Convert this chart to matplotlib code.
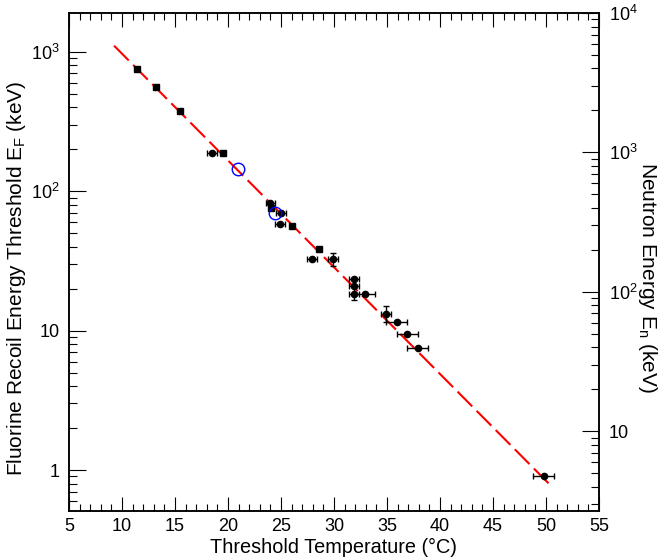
import numpy as np
import matplotlib
matplotlib.use("Agg")
import matplotlib.pyplot as plt
from matplotlib.ticker import FuncFormatter, MultipleLocator, LogLocator, NullFormatter

plt.rcParams['font.family'] = ['Liberation Sans', 'DejaVu Sans']
plt.rcParams['mathtext.fontset'] = 'custom'
plt.rcParams['mathtext.rm'] = 'Liberation Sans'
plt.rcParams['mathtext.it'] = 'Liberation Sans'
plt.rcParams['mathtext.default'] = 'regular'

# ---- data ----
# points drawn as filled squares (small errors)
sq_T = [11.4, 13.2, 15.5, 19.5, 24.1, 26.0, 28.6]
sq_E = [757, 561, 378, 189, 76, 56.7, 38.4]

# points with error bars
pt_T = [18.5, 24.0, 25.0, 24.9, 27.9, 29.9, 31.9, 31.9, 31.9, 32.9, 34.9, 35.9, 36.9, 37.9, 49.8]
pt_E = [189, 83, 70.3, 58, 32.7, 32.8, 23.6, 20.8, 18.4, 18.3, 13.2, 11.5, 9.47, 7.51, 0.906]
pt_Terr = [0.45, 0.45, 0.45, 0.45, 0.45, 0.45, 0.45, 0.45, 0.45, 1.0, 0.45, 1.0, 1.0, 1.0, 1.0]
pt_Eerr_lo = [0, 0, 0, 0, 0, 3.7, 0, 0, 1.8, 0, 1.6, 0, 0, 0, 0]
pt_Eerr_hi = [0, 0, 0, 0, 0, 3.5, 0, 0, 2.0, 0, 1.8, 0, 0, 0, 0]

# open blue circles
bl_T = [20.9, 24.4]
bl_E = [145, 70.3]

# exponential fit  E = A * exp(-T / T0)
fit_A = 5660.0
fit_T0 = 5.67
fit_Trange = [9.25, 50.6]

# neutron energy conversion factor (E_n = E_F / 0.19)
conv = 1.0 / 0.19

xticks = [5, 10, 15, 20, 25, 30, 35, 40, 45, 50, 55]

# ---- figure ----
fig = plt.figure(figsize=(6.62, 5.59), dpi=100)
ax = fig.add_axes([69/662, 48/559, 530/662, 498/559])
ax.set_yscale('log')
ax.set_xlim(5, 55)
ylo, yhi = 0.508, 10000.0 / conv
ax.set_ylim(ylo, yhi)

Tfit = np.linspace(fit_Trange[0], fit_Trange[1], 200)
ax.plot(Tfit, fit_A * np.exp(-Tfit / fit_T0), color='#ff0000', lw=1.5,
        dashes=(10, 3), zorder=2)

ax.errorbar(pt_T, pt_E, xerr=pt_Terr, yerr=[pt_Eerr_lo, pt_Eerr_hi], fmt='o',
            color='black', ms=4.5, elinewidth=1.0, capsize=2.2, capthick=1.0, zorder=3)
ax.plot(sq_T, sq_E, 's', color='black', ms=4.5, zorder=3)
ax.plot(bl_T, bl_E, 'o', mfc='none', mec='#0000ff', ms=9, mew=1.0, zorder=4)


def fmt(v, pos):
    if abs(v - 1) < 1e-9:
        return '1'
    if abs(v - 10) < 1e-9:
        return '10'
    k = int(round(np.log10(v)))
    return r'$10^{%d}$' % k


ax.xaxis.set_minor_locator(MultipleLocator(1))
ax.set_xticks(xticks)
ax.yaxis.set_major_locator(LogLocator(base=10))
ax.yaxis.set_minor_locator(LogLocator(base=10, subs=np.arange(2, 10)))
ax.yaxis.set_major_formatter(FuncFormatter(fmt))
ax.yaxis.set_minor_formatter(NullFormatter())

ax.tick_params(axis='x', which='both', direction='in', top=True, bottom=True,
               labelsize=13, pad=5, width=0.8)
ax.tick_params(axis='x', which='major', length=10)
ax.tick_params(axis='x', which='minor', length=5)
ax.tick_params(axis='y', which='both', direction='in', left=True, right=False,
               labelsize=13, pad=7, width=0.8)
ax.tick_params(axis='y', which='major', length=12)
ax.tick_params(axis='y', which='minor', length=6)

for s in ax.spines.values():
    s.set_linewidth(1.1)

ax.set_xlabel('Threshold Temperature (°C)', fontsize=14.3, labelpad=2)
ax.set_ylabel(r'Fluorine Recoil Energy Threshold E$_{F}$ (keV)', fontsize=15)
ax.yaxis.label.set_va('center')
ax.yaxis.set_label_coords((17 - 69) / 530, 0.468)

ax2 = ax.twinx()
ax2.set_yscale('log')
ax2.set_ylim(ylo * conv, yhi * conv)
ax2.yaxis.set_major_locator(LogLocator(base=10))
ax2.yaxis.set_minor_locator(LogLocator(base=10, subs=np.arange(2, 10)))
ax2.yaxis.set_major_formatter(FuncFormatter(fmt))
ax2.yaxis.set_minor_formatter(NullFormatter())
ax2.tick_params(axis='y', which='both', direction='in', right=True, left=False,
                labelsize=13, pad=7, width=0.8)
ax2.tick_params(axis='y', which='major', length=12)
ax2.tick_params(axis='y', which='minor', length=6)
ax2.set_ylabel(r'Neutron Energy E$_{n}$ (keV)', fontsize=15, rotation=270)
ax2.yaxis.label.set_va('center')
ax2.yaxis.label.set_ha('center')
ax2.yaxis.set_label_coords((648 - 69) / 530, 0.468)
for s in ax2.spines.values():
    s.set_linewidth(1.1)

fig.savefig('out.png', dpi=100)
